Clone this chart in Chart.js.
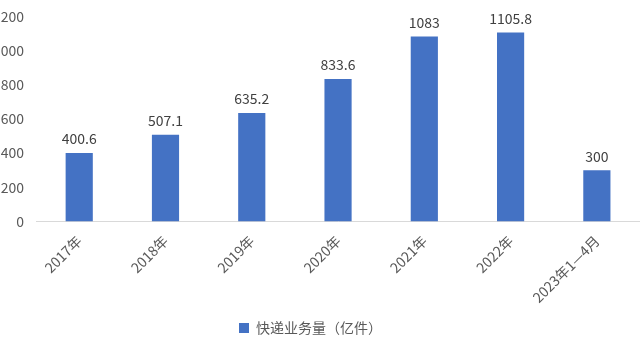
<!DOCTYPE html>
<html>
<head>
<meta charset="utf-8">
<script src="https://cdn.jsdelivr.net/npm/chart.js@4.4.1/dist/chart.umd.min.js"></script>
<style>
  html, body { margin: 0; padding: 0; background: #fff; overflow: hidden; }
  #wrap { position: absolute; left: -19px; top: -4px; width: 659px; height: 364px; }
</style>
</head>
<body>
<div id="wrap"><canvas id="c"></canvas></div>
<script>
const categories = ["2017年", "2018年", "2019年", "2020年", "2021年", "2022年", "2023年1—4月"];
const values = [400.6, 507.1, 635.2, 833.6, 1083, 1105.8, 300];
const valueLabels = ["400.6", "507.1", "635.2", "833.6", "1083", "1105.8", "300"];
const seriesName = "快递业务量（亿件）";
const yTicks = [0, 200, 400, 600, 800, 1000, 1200];

const FONT = '"Noto Sans CJK SC", "Noto Sans", sans-serif';

const valueLabelPlugin = {
  id: 'valueLabels',
  afterDatasetsDraw(chart) {
    const ctx = chart.ctx;
    const meta = chart.getDatasetMeta(0);
    ctx.save();
    ctx.font = '14px ' + FONT;
    ctx.fillStyle = '#404040';
    ctx.textAlign = 'center';
    ctx.textBaseline = 'bottom';
    meta.data.forEach((bar, i) => {
      ctx.fillText(valueLabels[i], bar.x, bar.y - 7);
    });
    ctx.restore();
  }
};

new Chart(document.getElementById('c'), {
  type: 'bar',
  data: {
    labels: categories,
    datasets: [{
      label: seriesName,
      data: values,
      backgroundColor: '#4472C4',
      borderWidth: 0,
      barPercentage: 0.63,
      categoryPercentage: 0.5
    }]
  },
  options: {
    responsive: true,
    maintainAspectRatio: false,
    animation: false,
    layout: { padding: { top: 0, right: 0, bottom: 15, left: 0 } },
    plugins: {
      legend: {
        position: 'bottom',
        labels: {
          boxWidth: 10, boxHeight: 10,
          font: { family: FONT, size: 14 },
          color: '#595959',
          padding: 4
        }
      },
      tooltip: { enabled: false }
    },
    scales: {
      x: {
        grid: { display: false, drawTicks: false },
        border: { display: true, color: '#D9D9D9', width: 1 },
        ticks: {
          minRotation: 45, maxRotation: 45,
          font: { family: FONT, size: 14 },
          color: '#595959',
          padding: 11
        }
      },
      y: {
        min: 0, max: 1200,
        afterBuildTicks(axis) { axis.ticks = yTicks.map(v => ({ value: v })); },
        grid: { display: false, drawTicks: false },
        border: { display: false },
        ticks: {
          font: { family: FONT, size: 14 },
          color: '#595959',
          padding: 12,
          callback: (v) => String(v)
        }
      }
    }
  },
  plugins: [valueLabelPlugin]
});
</script>
</body>
</html>
